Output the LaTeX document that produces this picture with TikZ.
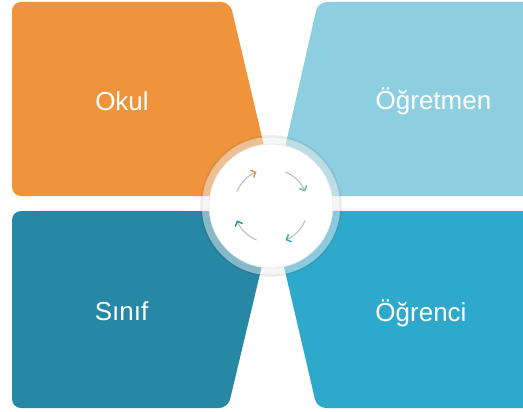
\documentclass[tikz,border=0pt]{standalone}
\usepackage{fontspec}
\setmainfont{Liberation Sans}
\usetikzlibrary{arrows.meta}
\definecolor{cOrange}{RGB}{240,148,60}
\definecolor{cLight}{RGB}{141,207,225}
\definecolor{cDark}{RGB}{38,136,165}
\definecolor{cCyan}{RGB}{46,169,204}
\begin{document}
\begin{tikzpicture}[x=1pt,y=-1pt,
  quad/.style={rounded corners=9pt},
  lbl/.style={text=white, font=\fontsize{26}{30}\selectfont, anchor=base, inner sep=0pt},
  cyc/.style={draw=gray!50, line width=1.1pt},
  tipc/.style={-{Straight Barb[color=#1, length=4pt, width=8pt, line width=1.4pt]}}]
\fill[white] (0,0) rectangle (523,412);
\useasboundingbox (0,0) rectangle (523,412);
% quadrants
\fill[cOrange, quad] (12,2) -- (230,2) -- (276,196) -- (12,196) -- cycle;
\fill[cLight, quad] (274,196) -- (318,2) -- (540,2) -- (540,196) -- cycle;
\fill[cDark, quad] (12,211) -- (275,211) -- (228,408) -- (12,408) -- cycle;
\fill[cCyan, quad] (271,211) -- (540,211) -- (540,408) -- (317,408) -- cycle;
% centre disc
\coordinate (c) at (271,206);
\fill[black, opacity=0.06] (c) circle (71);
\fill[white, opacity=0.45] (c) circle (69);
\draw[gray!40, opacity=0.5, line width=0.6pt] (c) circle (69);
\fill[white] (c) circle (62);
\draw[gray!25, line width=0.5pt] (c) circle (62);
% cycle arrows
\draw[cyc, tipc=cOrange] ([shift={(-157:37)}]c) arc[start angle=-157, end angle=-113, radius=37];
\draw[cyc, tipc=cLight!85!black] ([shift={(-67:37)}]c) arc[start angle=-67, end angle=-23, radius=37];
\draw[cyc, tipc=cCyan] ([shift={(23:37)}]c) arc[start angle=23, end angle=67, radius=37];
\draw[cyc, tipc=cDark] ([shift={(113:37)}]c) arc[start angle=113, end angle=157, radius=37];
% labels
\node[lbl] (okul) at (122,111) {Okul};
\node[lbl] (ogretmen) at (433.5,110) {Öğretmen};
\node[lbl] (sinif) at (121.5,320) {Sınıf};
\node[lbl] (ogrenci) at (421,321) {Öğrenci};
\end{tikzpicture}
\end{document}
